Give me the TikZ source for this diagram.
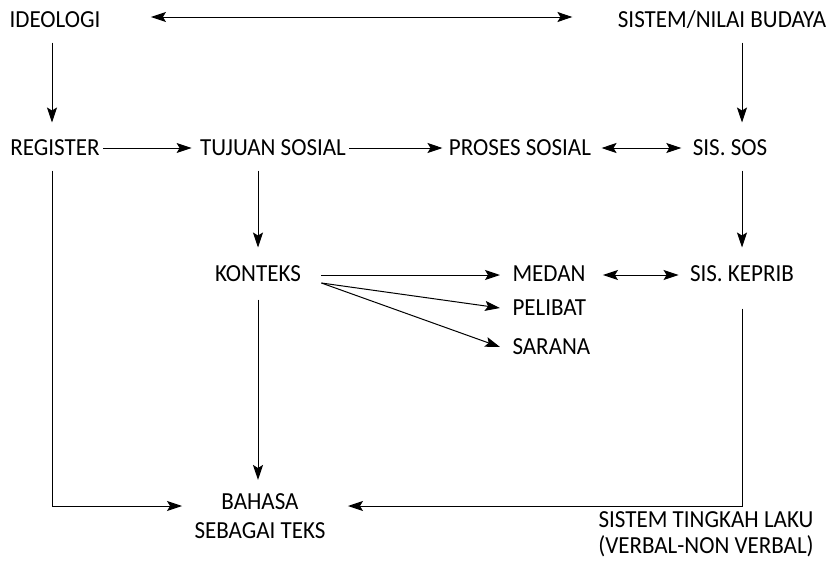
\documentclass[tikz,border=0pt]{standalone}
\usepackage{fontspec}
\setmainfont{Carlito}[FakeStretch=0.94]
\usetikzlibrary{arrows.meta}
\begin{document}
\begin{tikzpicture}[x=1pt,y=-1pt,line width=1pt,
    every node/.style={inner sep=0pt,text height=15pt,text depth=0pt,
      font=\fontsize{24.5}{29}\selectfont},
    twoline/.style={align=center,text height=,text depth=},
    >={Stealth[length=15pt,width=10pt,inset=3pt]}]
      \useasboundingbox (0,0) rectangle (833,568);
      \draw
        (55,20) node (ideo){IDEOLOGI}
        (722,20) node (budaya){SISTEM/NILAI BUDAYA}
        (55,148) node (reg){REGISTER}
        (273,148) node (tujuan){TUJUAN SOSIAL}
        (520,148) node (proses){PROSES SOSIAL}
        (730,148) node (sissos){SIS. SOS}
        (258,274) node (konteks){KONTEKS}
        (512,274) node[anchor=west] (medan){MEDAN}
        (512,308) node[anchor=west] (pelibat){PELIBAT}
        (512,347) node[anchor=west] (sarana){SARANA}
        (742,274) node (keprib){SIS. KEPRIB}
        (260,516) node[twoline] (bahasa){BAHASA\\SEBAGAI TEKS}
        (706,534) node[twoline,font=\fontsize{24.5}{25.5}\selectfont] (tingkah){SISTEM TINGKAH LAKU\\(VERBAL-NON VERBAL)};
      \begin{scope}[->]
        \draw[<->,shorten <=50pt,shorten >=45pt] ([yshift=3pt]ideo.east) -- ([yshift=3pt]budaya.west);
        \draw[shorten <=14.5pt,shorten >=17.5pt] ([xshift=-3pt]ideo.south) -- ([xshift=-3pt]reg.north);
        \draw[shorten <=14.5pt,shorten >=17.5pt] (keprib.north |- budaya.south) -- (keprib.north |- sissos.north);
        \draw[shorten <=3pt,shorten >=8pt] (reg) -- (tujuan);
        \draw[shorten <=3pt,shorten >=6pt] (tujuan) -- (proses);
        \draw[<->,shorten <=10pt,shorten >=11pt] (proses) -- (sissos);
        \draw[shorten <=14.5pt,shorten >=18.5pt] (keprib.north |- sissos.south) -- (keprib.north);
        \draw[shorten <=14.5pt,shorten >=18.5pt] (konteks.north |- tujuan.south) -- (konteks.north);
        \draw[shorten <=20pt,shorten >=12pt] ([yshift=-1pt]konteks.east) -- ([yshift=-1pt]medan.west);
        \draw ([xshift=20pt,yshift=-9pt]konteks.east) -- ([xshift=-12pt]pelibat.west);
        \draw ([xshift=20pt,yshift=-9pt]konteks.east) -- ([xshift=-12pt]sarana.west);
        \draw[<->,shorten <=17pt,shorten >=11pt] ([yshift=-1pt]medan.east) -- ([yshift=-1pt]keprib.west);
        \draw[shorten <=17.5pt,shorten >=13pt] (konteks.south) -- (konteks.south |- bahasa.north);
        \draw[shorten <=14.5pt,shorten >=12pt] ([xshift=-3pt]reg.south) |- ([yshift=10pt]bahasa.west);
        \draw[shorten <=26.5pt,shorten >=22pt] (keprib.south) |- ([yshift=10pt]bahasa.east);
      \end{scope}
    \end{tikzpicture}
\end{document}
